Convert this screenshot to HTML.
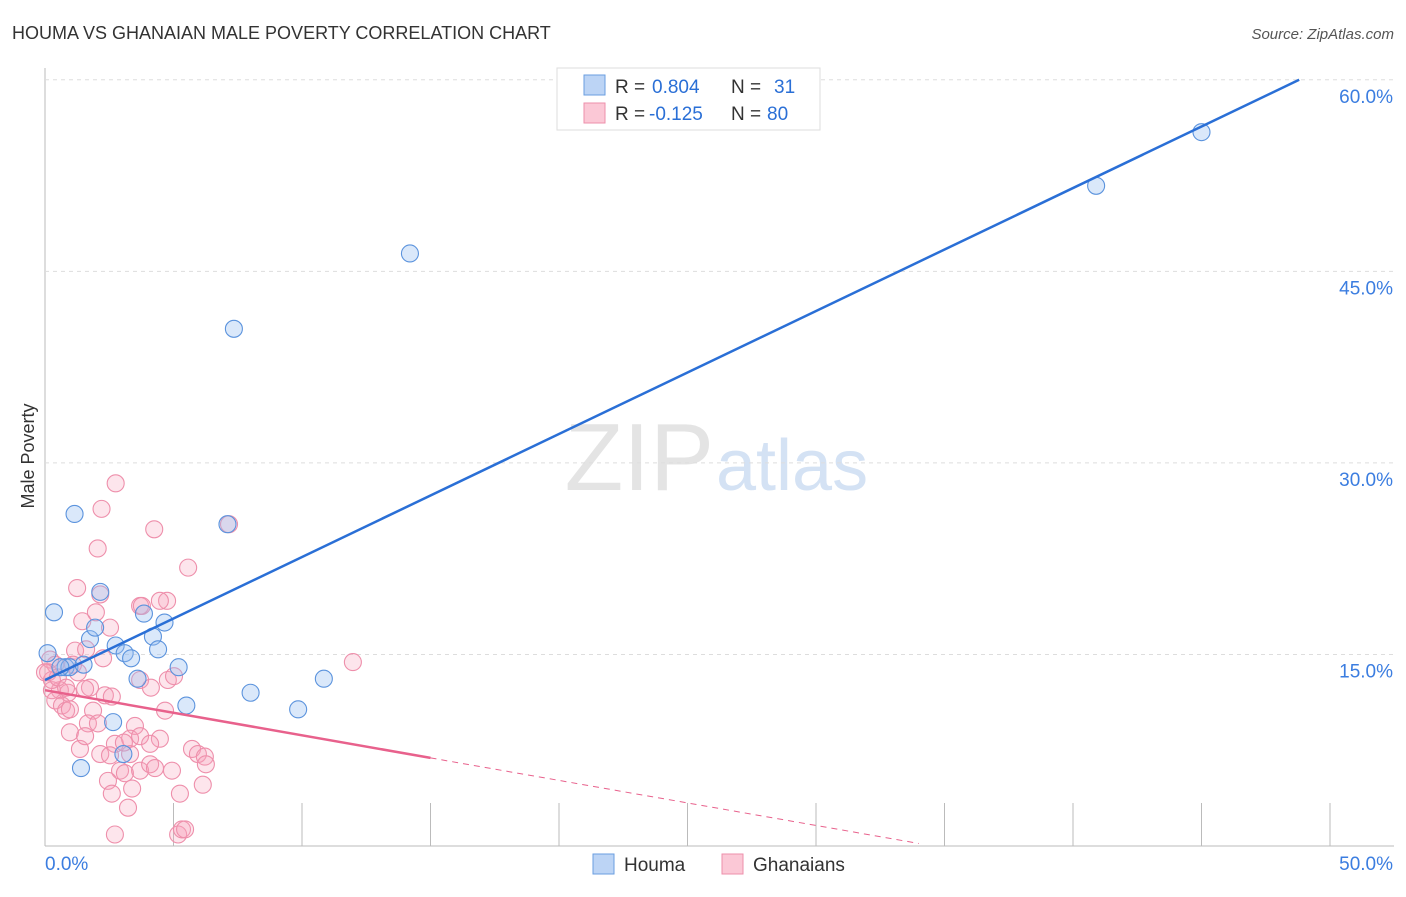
<!DOCTYPE html>
<html><head><meta charset="utf-8"><style>
body{margin:0;background:#fff;font-family:"Liberation Sans",sans-serif;}
svg text{font-family:"Liberation Sans",sans-serif;}
</style></head><body>
<svg id="c" width="1406" height="892">
<text x="12" y="39" font-size="18" fill="#333">HOUMA VS GHANAIAN MALE POVERTY CORRELATION CHART</text>
<text x="1394" y="39" font-size="15" fill="#555" font-style="italic" text-anchor="end">Source: ZipAtlas.com</text>
<text x="714" y="490" font-size="96" fill="#e4e4e4" text-anchor="end" font-family="Liberation Serif">ZIP</text>
<text x="716" y="490" font-size="72" fill="#d4e2f4">atlas</text>
<text x="34" y="456" font-size="18" fill="#333" transform="rotate(-90 34 456)" text-anchor="middle">Male Poverty</text>
<g id="grid"></g><g id="pts"></g><g id="lines"></g>
<g>
<rect x="557" y="68" width="263" height="62" fill="#fff" stroke="#ddd"/>
<rect x="584" y="75" width="21" height="20" fill="#bcd4f5" stroke="#6a9ee0"/>
<rect x="584" y="103" width="21" height="20" fill="#fbc8d6" stroke="#ee8fab"/>
<text x="615" y="93" font-size="19" fill="#333">R =</text>
<text x="652" y="93" font-size="19" fill="#2a6fd6">0.804</text>
<text x="731" y="93" font-size="19" fill="#333">N =</text>
<text x="774" y="93" font-size="19" fill="#2a6fd6">31</text>
<text x="615" y="120" font-size="19" fill="#333">R =</text>
<text x="649" y="120" font-size="19" fill="#2a6fd6">-0.125</text>
<text x="731" y="120" font-size="19" fill="#333">N =</text>
<text x="767" y="120" font-size="19" fill="#2a6fd6">80</text>
</g>
<g>
<rect x="593" y="854" width="21" height="20" fill="#bcd4f5" stroke="#6a9ee0"/>
<text x="624" y="871" font-size="19" fill="#333">Houma</text>
<rect x="722" y="854" width="21" height="20" fill="#fbc8d6" stroke="#ee8fab"/>
<text x="753" y="871" font-size="19" fill="#333">Ghanaians</text>
</g>
</svg>
<script>
const NS="http://www.w3.org/2000/svg";
const xTicks=[0,5,10,15,20,25,30,35,40,45,50];
const yTicks=[15,30,45,60];
const houmaX=[0.1,0.35,1.15,1.4,0.8,0.95,1.75,1.95,2.15,2.75,3.1,3.35,2.65,3.85,4.2,4.4,4.65,3.6,5.2,5.5,3.05,7.1,7.35,8.0,9.85,10.85,14.2,40.9,45.0,1.5,0.6];
const houmaY=[15.1,18.3,26.0,6.1,14.0,14.0,16.2,17.1,19.9,15.7,15.1,14.7,9.7,18.2,16.4,15.4,17.5,13.1,14.0,11.0,7.2,25.2,40.5,12.0,10.7,13.1,46.4,51.7,55.9,14.2,14.0];
const ghanaX=[2.75,2.2,2.05,4.25,5.57,1.25,2.15,1.45,1.98,2.53,3.7,4.75,7.16,1.17,1.6,2.26,0.2,0.4,1.09,0.12,0.58,0.27,0.9,1.75,2.33,0.4,0.66,0.82,0.97,1.87,2.6,3.7,4.78,5.02,1.67,2.06,3.5,4.67,0.97,1.36,1.56,2.15,2.72,3.31,3.7,4.47,2.53,2.92,3.31,3.11,2.45,3.7,4.09,2.6,3.39,4.28,4.94,5.72,5.95,6.22,6.26,5.25,6.14,3.23,2.72,5.18,5.33,5.45,11.98,4.12,0.27,0.5,0.82,0.0,1.28,1.56,4.09,3.07,4.47,3.77];
const ghanaY=[28.4,26.4,23.3,24.8,21.8,20.2,19.7,17.6,18.3,17.1,18.8,19.2,25.2,15.3,15.4,14.7,14.6,14.2,14.2,13.6,12.2,12.2,12.0,12.4,11.8,11.4,11.0,10.6,10.7,10.6,11.7,13.0,13.0,13.3,9.6,9.6,9.4,10.6,8.9,7.6,8.6,7.2,8.0,8.4,8.6,8.4,7.1,5.9,7.2,5.7,5.1,5.9,6.4,4.1,4.5,6.1,5.9,7.6,7.2,7.0,6.4,4.1,4.8,3.0,0.9,0.9,1.3,1.3,14.4,12.4,13.0,13.2,12.4,13.6,13.6,12.3,8.0,8.1,19.2,18.8];
const X=v=>45+v*25.7, Y=v=>846-v*12.77;
function el(t,a,p){const e=document.createElementNS(NS,t);for(const k in a)e.setAttribute(k,a[k]);document.getElementById(p).appendChild(e);return e;}
let ax=el('line',{x1:45,y1:68,x2:45,y2:846,stroke:'#bbb'},'grid');


let bx=el('line',{x1:45,y1:846,x2:1394,y2:846,stroke:'#bbb'},'grid');


xTicks.forEach(t=>{const l=el('line',{x1:X(t),x2:X(t),y1:803,y2:846,stroke:'#bbb'},'grid');

});
yTicks.forEach(t=>{const l=el('line',{x1:45,x2:1394,y1:Y(t),y2:Y(t),stroke:'#ddd','stroke-dasharray':'4,4'},'grid');


const tx=el('text',{x:1393,y:Y(t)+23,'font-size':19,fill:'#3b7de0','text-anchor':'end'},'grid');tx.textContent=t.toFixed(1)+'%';

});
const xl=el('text',{x:45,y:870,'font-size':19,fill:'#3b7de0'},'grid');xl.textContent='0.0%';


const xr=el('text',{x:1393,y:870,'font-size':19,fill:'#3b7de0','text-anchor':'end'},'grid');xr.textContent='50.0%';


ghanaX.forEach((v,i)=>{const c=el('circle',{cx:X(v),cy:Y(ghanaY[i]),r:8.5,fill:'rgba(247,160,185,0.28)',stroke:'#ee8fab','stroke-width':1.1},'pts');

});
houmaX.forEach((v,i)=>{const c=el('circle',{cx:X(v),cy:Y(houmaY[i]),r:8.5,fill:'rgba(150,190,240,0.35)',stroke:'#5b93dd','stroke-width':1.1},'pts');

});
const bl=el('line',{x1:X(0),y1:Y(13.0),x2:X(48.8),y2:Y(60),stroke:'#2a6fd6','stroke-width':2.5},'lines');


const pl=el('line',{x1:X(0),y1:Y(12.2),x2:X(15),y2:Y(6.9),stroke:'#e8618c','stroke-width':2.5},'lines');


const pd=el('line',{x1:X(15),y1:Y(6.9),x2:X(34),y2:Y(0.2),stroke:'#e8618c','stroke-width':1,'stroke-dasharray':'6,5'},'lines');


</script>
</body></html>
